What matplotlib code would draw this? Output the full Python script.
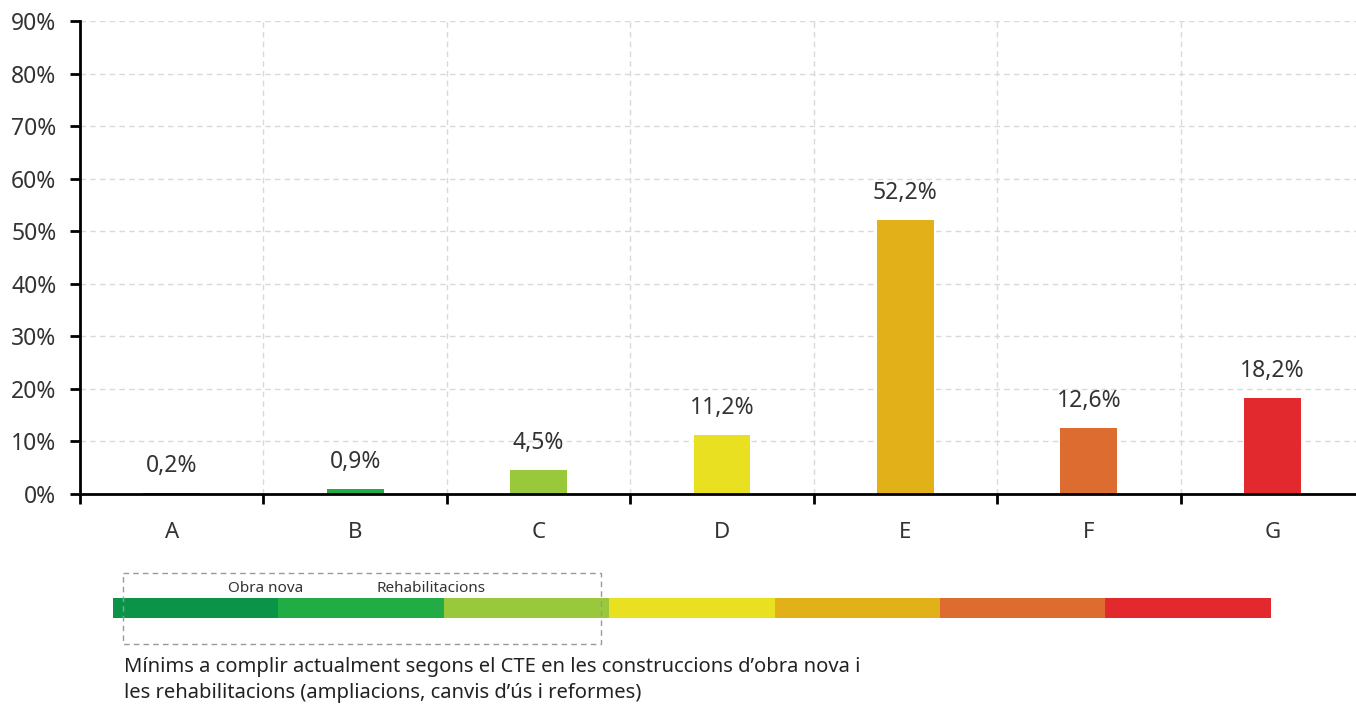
import matplotlib
matplotlib.use("Agg")
import matplotlib.pyplot as plt
from matplotlib.patches import Rectangle

plt.rcParams['font.family'] = ['Noto Sans', 'DejaVu Sans']

# dades
categories = ['A', 'B', 'C', 'D', 'E', 'F', 'G']
percentatges = [0.2, 0.9, 4.5, 11.2, 52.2, 12.6, 18.2]
colors = ['#0a9447', '#21ac45', '#99c93a', '#e8e020', '#e2b11a', '#dd6c31', '#e1292e']
etiquetes_caixa = ['Obra nova', 'Rehabilitacions']
nota = ("Mínims a complir actualment segons el CTE en les construccions d’obra nova i\n"
        "les rehabilitacions (ampliacions, canvis d’ús i reformes)")

W, H = 1356, 705
fig = plt.figure(figsize=(W / 100, H / 100), dpi=100)
ax = fig.add_axes([80 / W, 1 - 494 / H, 1284 / W, 473 / H])

x = list(range(len(categories)))
ax.bar(x, percentatges, width=0.31, color=colors, zorder=3)
for xi, v in zip(x, percentatges):
    ax.annotate(f"{v:.1f}%".replace('.', ','), (xi, v), xytext=(0, 27),
                textcoords='offset pixels', ha='center', va='center',
                fontsize=16.5, color='#333333')

ax.set_xlim(-0.5, 6.5)
ax.set_ylim(0, 90)
ax.set_yticks(range(0, 91, 10))
ax.set_yticklabels([f"{t}%" for t in range(0, 91, 10)], fontsize=16.5, color='#333333')

# límits de categoria com a ticks majors, lletres com a minors
ax.set_xticks([i - 0.5 for i in range(7)])
ax.set_xticklabels([])
ax.set_xticks(x, minor=True)
ax.set_xticklabels(categories, minor=True, fontsize=16, color='#333333')
ax.tick_params(axis='x', which='major', length=7, width=2, direction='out')
ax.tick_params(axis='x', which='minor', length=0, pad=20)
ax.tick_params(axis='y', length=7, width=2, pad=10)

for s in ['top', 'right']:
    ax.spines[s].set_visible(False)
for s in ['left', 'bottom']:
    ax.spines[s].set_linewidth(2)
    ax.spines[s].set_zorder(4)

for t in range(10, 91, 10):
    ax.axhline(t, color='#d9d9d9', lw=1, ls=(0, (4, 3)), zorder=1)
for i in range(1, 7):
    ax.axvline(i - 0.5, color='#d9d9d9', lw=1, ls=(0, (4, 3)), zorder=1)

# barra de colors i caixa de mínims
ov = fig.add_axes([0, 0, 1, 1])
ov.set_xlim(0, W)
ov.set_ylim(H, 0)
ov.axis('off')
x0, seg = 113, 165.4
for i, c in enumerate(colors):
    ov.add_patch(Rectangle((x0 + i * seg, 598), seg + 0.5, 20, color=c, lw=0))
ov.add_patch(Rectangle((123, 573), 478, 71, fill=False, ec='#999999', lw=1,
                       ls=(0, (4, 3))))
for i, t in enumerate(etiquetes_caixa):
    ov.text(x0 + (i + 1) * seg - 13, 588, t, ha='center', va='center',
            fontsize=11, color='#333333')
ov.text(124, 680, nota, ha='left', va='center', fontsize=14.5, color='#222222',
        linespacing=1.35)

fig.savefig('out.png', dpi=100)
